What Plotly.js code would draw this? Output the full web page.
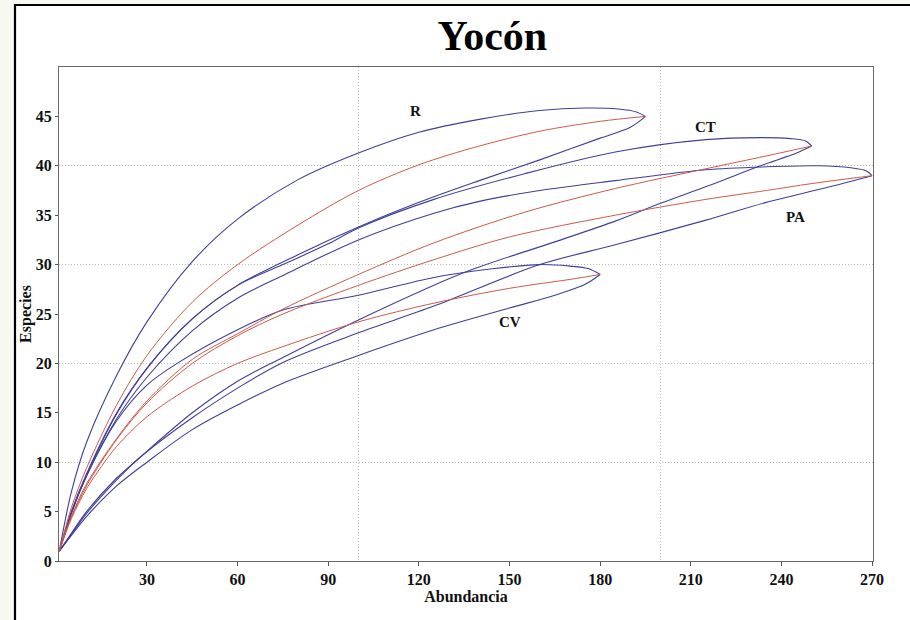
<!DOCTYPE html>
<html>
<head>
<meta charset="utf-8">
<script src="https://cdn.plot.ly/plotly-3.0.1.min.js"></script>
<style>html,body{margin:0;padding:0;background:#f7f8f0;}#chart{width:910px;height:620px;}</style>
</head>
<body>
<div id="chart"></div>
<script>
// ---- Data ----
// R
const R_x      = [1, 5, 10, 20, 30, 45, 60, 80, 100, 120, 140, 160, 180, 195];
const R_mean   = [1, 5.4, 9.4, 15.8, 20.8, 26.2, 30.0, 34.0, 37.5, 40.1, 42.0, 43.5, 44.5, 45];
const R_up_x   = [1, 5, 10, 20, 30, 45, 60, 80, 100, 120, 140, 160, 175, 186, 192, 195];
const R_up     = [1, 7.0, 12.0, 18.8, 24.2, 30.3, 34.6, 38.6, 41.3, 43.4, 44.7, 45.6, 45.85, 45.75, 45.45, 45];
const R_lo_x   = [1, 5, 10, 20, 30, 45, 60, 80, 100, 120, 140, 160, 180, 190, 195];
const R_lo     = [1, 4.9, 8.7, 14.9, 19.5, 24.5, 27.9, 31.0, 33.8, 36.3, 38.5, 40.6, 42.8, 43.9, 45];
// CT
const CT_x     = [1, 5, 10, 20, 30, 45, 60, 75, 100, 125, 155, 185, 215, 235, 250];
const CT_mean  = [1, 4.5, 7.8, 12.4, 16.2, 20.4, 23.0, 25.5, 29.0, 32.2, 35.3, 37.7, 39.7, 41.0, 42];
const CT_up_x  = [1, 5, 10, 20, 30, 45, 60, 75, 90, 100, 125, 155, 185, 215, 233, 243, 248, 250];
const CT_up    = [1, 5.0, 8.8, 15.0, 19.5, 24.5, 27.9, 30.0, 32.1, 33.7, 36.6, 39.2, 41.4, 42.65, 42.85, 42.75, 42.5, 42];
const CT_lo_x  = [1, 5, 10, 20, 27, 45, 60, 75, 100, 135, 165, 185, 200, 216, 233, 245, 250];
const CT_lo    = [1, 2.8, 5.0, 8.4, 10.3, 15.0, 18.2, 20.6, 24.4, 29.2, 32.3, 34.4, 36.2, 38.0, 40.0, 41.3, 42];
// PA
const PA_x     = [1, 5, 10, 20, 30, 45, 60, 75, 100, 125, 150, 185, 215, 235, 250, 270];
const PA_mean  = [1, 4.4, 7.6, 12.3, 16.0, 20.0, 22.8, 25.0, 27.9, 30.5, 32.8, 35.0, 36.6, 37.5, 38.2, 39];
const PA_up_x  = [1, 5, 10, 20, 30, 45, 60, 75, 100, 125, 140, 160, 185, 215, 235, 252, 263, 268, 270];
const PA_up    = [1, 4.9, 8.6, 14.4, 18.6, 23.3, 26.6, 28.9, 32.5, 35.2, 36.4, 37.5, 38.5, 39.6, 39.9, 40.0, 39.8, 39.5, 39];
const PA_lo_x  = [1, 5, 10, 20, 27, 45, 60, 75, 100, 125, 160, 185, 215, 235, 255, 270];
const PA_lo    = [1, 2.7, 4.8, 8.2, 10.3, 14.5, 17.5, 20.1, 23.1, 25.8, 30.0, 32.0, 34.5, 36.3, 37.8, 39];
// CV
const CV_x     = [1, 5, 10, 15, 20, 30, 45, 60, 75, 100, 125, 150, 170, 180];
const CV_mean  = [1, 4.3, 7.3, 9.6, 11.6, 14.6, 17.7, 20.0, 21.7, 24.2, 26.1, 27.6, 28.5, 29];
const CV_up_x  = [1, 5, 10, 20, 30, 40, 60, 75, 100, 125, 145, 160, 170, 176, 180];
const CV_up    = [1, 4.8, 8.6, 14.2, 17.8, 20.0, 23.4, 25.4, 26.9, 28.7, 29.6, 30.0, 29.85, 29.6, 29];
const CV_lo_x  = [1, 5, 10, 20, 30, 45, 60, 75, 100, 125, 150, 165, 175, 180];
const CV_lo    = [1, 2.6, 4.5, 7.6, 10.0, 13.3, 15.8, 18.0, 20.8, 23.4, 25.6, 26.9, 28.0, 29];

// labels
const siteNames = ['R', 'CT', 'PA', 'CV'];
const labelX    = [119, 215, 244.5, 150];
const labelY    = [45.5, 43.9, 34.8, 24.2];

const xTicks = [30, 60, 90, 120, 150, 180, 210, 240, 270];
const yTicks = [0, 5, 10, 15, 20, 25, 30, 35, 40, 45];
const xGrid  = [100, 200];
const yGrid  = [10, 20, 30, 40];

// ---- Styling ----
const BLUE = '#3f3f9c';
const RED  = '#cc5a48';
const SERIF = '"Liberation Serif", "Times New Roman", serif';

function line(x, y, color, w) {
  return {x: x, y: y, type: 'scatter', mode: 'lines',
          line: {color: color, width: w, shape: 'spline', smoothing: 0.9},
          hoverinfo: 'skip', showlegend: false};
}

const traces = [
  line(R_up_x, R_up, BLUE, 1.1), line(R_lo_x, R_lo, BLUE, 1.1),
  line(CT_up_x, CT_up, BLUE, 1.1), line(CT_lo_x, CT_lo, BLUE, 1.1),
  line(PA_up_x, PA_up, BLUE, 1.1), line(PA_lo_x, PA_lo, BLUE, 1.1),
  line(CV_up_x, CV_up, BLUE, 1.1), line(CV_lo_x, CV_lo, BLUE, 1.1),
  line(R_x, R_mean, RED, 1.0), line(CT_x, CT_mean, RED, 1.0),
  line(PA_x, PA_mean, RED, 1.0), line(CV_x, CV_mean, RED, 1.0),
  {x: [], y: [], xaxis: 'x2', yaxis: 'y2', type: 'scatter', mode: 'lines', showlegend: false, hoverinfo: 'skip'}
];

const XR = [0.9, 270.3];
const YR = [0, 50];

const layout = {
  width: 910, height: 620,
  margin: {l: 59, r: 37, t: 67, b: 59},
  paper_bgcolor: '#f7f8f0',
  plot_bgcolor: '#ffffff',
  showlegend: false,
  title: {text: 'Yocón', x: 0.541, xref: 'container', xanchor: 'center',
          y: 0.943, yref: 'container', yanchor: 'middle',
          font: {family: SERIF, size: 42, color: '#000', weight: 'bold'}},
  // primary axes carry only the dotted gridlines
  xaxis: {range: XR, tickvals: xGrid, showticklabels: false, ticks: '',
          showgrid: true, gridcolor: '#bdbdbd', griddash: '1px,2px', gridwidth: 1,
          zeroline: false, showline: true, mirror: true, linecolor: '#6a6a6a', linewidth: 1},
  yaxis: {range: YR, tickvals: yGrid, showticklabels: false, ticks: '',
          showgrid: true, gridcolor: '#bdbdbd', griddash: '1px,2px', gridwidth: 1,
          zeroline: false, showline: true, mirror: true, linecolor: '#6a6a6a', linewidth: 1},
  // overlay axes carry ticks and labels
  xaxis2: {overlaying: 'x', anchor: 'y2', side: 'bottom', range: XR, tickvals: xTicks,
           ticktext: xTicks.map(String), ticks: 'outside', ticklen: 4, tickcolor: '#555',
           showgrid: false, zeroline: false, showline: false,
           tickfont: {family: SERIF, size: 16, color: '#111', weight: 'bold'},
           title: {text: 'Abundancia', standoff: 0,
                   font: {family: SERIF, size: 16, color: '#111', weight: 'bold'}}},
  yaxis2: {overlaying: 'y', anchor: 'x2', side: 'left', range: YR, tickvals: yTicks,
           ticktext: yTicks.map(String), ticks: 'outside', ticklen: 3, tickcolor: '#555',
           showgrid: false, zeroline: false, showline: false,
           tickfont: {family: SERIF, size: 16, color: '#111', weight: 'bold'},
           title: {text: 'Especies', standoff: 0,
                   font: {family: SERIF, size: 16, color: '#111', weight: 'bold'}}},
  shapes: [
    {type: 'rect', xref: 'paper', yref: 'paper', layer: 'below',
     x0: (15 - 59) / 814, x1: (915 - 59) / 814,
     y0: (561 - 625) / 494, y1: (561 - 5) / 494,
     fillcolor: '#ffffff', line: {color: '#000', width: 2.2}}
  ],
  annotations: siteNames.map((t, i) => ({
    text: t, x: labelX[i], y: labelY[i], xref: 'x', yref: 'y', showarrow: false,
    font: {family: SERIF, size: 15, color: '#111', weight: 'bold'}
  }))
};

Plotly.newPlot('chart', traces, layout, {displayModeBar: false, staticPlot: true});
</script>
</body>
</html>
